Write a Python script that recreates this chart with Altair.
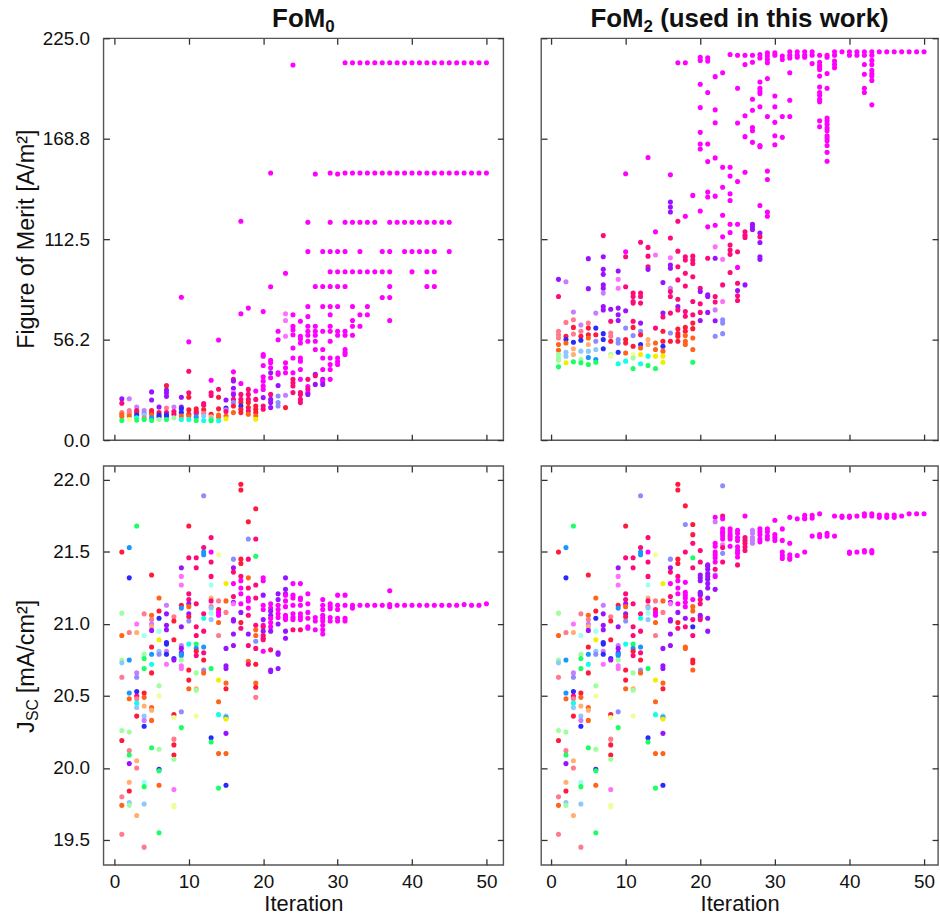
import altair as alt
import pandas as pd

FONT = "Liberation Sans"

# colour codes used for the sample points (hue family, upper case = saturated, lower case = pale)
HUE_CODES = ["M", "m", "P", "R", "r", "O", "o", "Y", "y", "G", "g", "C", "c", "A", "a", "B", "b", "V", "v"]
HUE_HEX = ["#ff00ff", "#ff70ff", "#ff0a7a", "#ff1a3a", "#ff7a8c", "#ff641a", "#ffb070", "#f2ee00", "#eeff99",
           "#1aff66", "#9dff9d", "#12ffe6", "#a0fff0", "#1a96ff", "#8cc8ff", "#2a2aff", "#8c8cff", "#9a12ff", "#c87cff"]

X_TICKS = [0, 10, 20, 30, 40, 50]
FOM_TICKS = [0.0, 56.2, 112.5, 168.8, 225.0]
JSC_TICKS = [19.5, 20.0, 20.5, 21.0, 21.5, 22.0]

# Figure of merit FoM0 per iteration: (iteration, values, colour codes; missing codes = "M")
FOM0 = [
    (1, [23.2, 20.6, 15.5, 14.5, 13.2, 11.0], "VPrOOG"),
    (2, [23.2, 16.5, 15.0, 13.5, 11.5], "vrrOy"),
    (3, [18.5, 16.5, 15.5, 14.0, 12.5, 11.2], "vPRBCG"),
    (4, [16.5, 15.0, 14.0, 12.5, 11.5], "vbarG"),
    (5, [27.0, 22.5, 16.5, 15.0, 14.0, 12.5, 11.0], "VVRROAG"),
    (6, [18.5, 15.5, 14.0, 13.0, 11.5], "VRBBg"),
    (7, [30.5, 28.0, 26.5, 24.5, 18.0, 15.5, 14.0, 13.5, 11.5], "RVVVrPBBG"),
    (8, [18.5, 16.0, 14.5, 12.5], "vPPg"),
    (9, [80.0, 24.0, 18.5, 17.5, 15.5, 13.5, 11.5], "MVVBBOC"),
    (10, [55.0, 38.5, 26.5, 24.0, 17.0, 14.5, 13.5, 11.5], "MPPRRROC"),
    (11, [17.5, 16.0, 15.0, 13.0, 11.0], "RRPAG"),
    (12, [20.5, 19.5, 17.0, 15.0, 13.5, 11.0], "PPRraC"),
    (13, [33.5, 26.5, 25.0, 14.5, 13.0, 11.5, 10.8], "MPPRoCG"),
    (14, [56.0, 28.5, 24.0, 17.5, 14.0, 13.0, 10.8], "MPRROOC"),
    (15, [22.5, 18.0, 17.0, 16.0, 13.5, 12.0], "VBvPOY"),
    (16, [38.2, 34.0, 33.1, 29.0, 26.6, 25.6, 22.8, 21.0, 19.1, 15.4], "MPVVmVPbRO"),
    (17, [122.5, 70.7, 31.7, 25.6, 22.8, 21.0, 19.1, 17.3, 15.4], "MMMPPRBRR"),
    (18, [73.9, 28.4, 25.6, 22.8, 21.0, 18.2, 16.3, 14.5], "MPPPRRPO"),
    (19, [27.5, 22.8, 19.1, 17.3, 15.4, 13.6, 11.7], "MPRRROY"),
    (20, [72.0, 47.9, 47.0, 41.8, 35.4, 33.0, 30.3, 28.4, 23.8, 19.1, 17.3], "MMMMMMMMVPP"),
    (21, [149.5, 85.9, 44.7, 43.3, 40.5, 37.7, 34.9, 25.6, 22.8, 21.0, 18.2], "MMMMMVMPVVV"),
    (22, [60.9, 56.2, 37.7, 36.8, 30.6, 24.7, 21.0, 19.1], "MMMMVbbb"),
    (23, [93.4, 70.7, 67.0, 58.1, 43.3, 40.5, 37.7, 25.1, 18.2], "MmmmMMMvR"),
    (24, [210.0, 70.2, 63.7, 61.8, 59.0, 51.6, 46.0, 37.7, 34.0, 32.1, 30.3, 26.6], "MMMMMMMMPPPP"),
    (25, [66.5, 58.1, 56.6, 54.4, 46.0, 44.2, 39.5, 34.0, 26.6, 25.6, 22.8, 21.0], "MMMMMMMMPPPP"),
    (26, [122.0, 105.6, 74.8, 69.2, 63.7, 60.9, 58.7, 55.3, 34.0, 30.0, 28.4, 26.5, 25.6], "MMMMMMMMPMPMV"),
    (27, [149.0, 86.0, 63.7, 60.9, 58.7, 55.3, 50.7, 36.8, 36.0, 31.2], "MMMMMMMVPV"),
    (28, [105.6, 86.0, 74.8, 60.9, 50.7, 46.0, 39.5, 34.0, 33.0, 31.2], "MMMMMMMVMV"),
    (29, [149.5, 122.0, 105.6, 94.3, 86.0, 74.8, 70.2, 63.7, 60.9, 55.3, 46.0, 42.3, 39.5, 34.0], ""),
    (30, [149.0, 105.6, 94.3, 86.0, 74.8, 60.9, 58.7, 46.0, 44.0, 42.3], ""),
    (31, [211.3, 149.5, 122.0, 105.6, 94.3, 86.0, 60.9, 58.7, 50.7, 49.0, 47.9], ""),
    (32, [211.3, 149.5, 122.0, 94.3, 74.8, 67.0, 63.7, 58.7], ""),
    (33, [211.3, 149.5, 122.0, 105.6, 94.3, 70.2, 63.7], ""),
    (34, [211.3, 149.5, 122.0, 94.3, 74.8, 70.2], ""),
    (35, [211.3, 149.5, 122.0, 94.3], ""),
    (36, [211.3, 149.5, 105.6, 94.3, 79.8], ""),
    (37, [211.3, 149.5, 122.0, 105.6, 94.3, 86.0, 79.8, 67.0], ""),
    (38, [211.3, 149.5, 122.0], ""),
    (39, [211.3, 149.5, 122.0, 105.6], ""),
    (40, [211.3, 149.5, 122.0, 105.6, 94.3], ""),
    (41, [211.3, 149.5, 122.0, 105.6], ""),
    (42, [211.3, 149.5, 122.0, 105.6, 94.3, 86.0], ""),
    (43, [211.3, 149.5, 122.0, 105.6, 94.3, 86.0], ""),
    (44, [211.3, 149.5, 122.0], ""),
    (45, [211.3, 149.5, 122.0, 105.6], ""),
    (46, [211.3, 149.5], ""),
    (47, [211.3, 149.5], ""),
    (48, [211.3, 149.5], ""),
    (49, [211.3, 149.5], ""),
    (50, [211.3, 149.5], ""),
]

# Figure of merit FoM2 per iteration
FOM2 = [
    (1, [90.0, 80.4, 60.9, 59.0, 57.2, 53.5, 50.3, 47.9, 46.0, 44.7, 41.0], "VPrrrOOgggG"),
    (2, [88.7, 65.9, 58.1, 56.3, 54.4, 49.2, 47.0, 43.3], "vrRBOaaY"),
    (3, [71.7, 67.4, 63.1, 59.4, 54.8, 51.1, 47.9, 43.8], "vrRrBooG"),
    (4, [64.4, 60.9, 58.1, 55.9, 49.8, 45.1, 43.3], "vrRBagG"),
    (5, [101.6, 84.8, 65.5, 62.7, 59.0, 57.2, 53.5, 49.8, 46.2, 42.3], "VVrRROoaAG"),
    (6, [71.1, 62.7, 59.0, 55.3, 50.7, 45.1, 43.6], "vBRbaAG"),
    (7, [114.5, 102.7, 95.6, 92.8, 86.9, 85.0, 82.3, 74.8, 72.9, 59.6, 56.3, 51.1], "PVVVVVvVVBBB"),
    (8, [73.3, 66.5, 60.0, 58.1, 55.3, 47.9, 47.0], "VPrrRgy"),
    (9, [94.7, 90.0, 85.0, 73.9, 70.2, 67.0, 56.3, 54.4, 49.2, 42.7], "VmmVVVbbBC"),
    (10, [149.1, 105.5, 102.7, 85.9, 72.4, 62.7, 56.3, 54.4, 48.8, 44.2], "MMPPVbRROC"),
    (11, [82.3, 80.4, 77.6, 76.7, 66.5, 63.1, 58.5, 52.5, 47.9, 46.0, 40.1], "PPPPPRbRygG"),
    (12, [110.8, 82.3, 80.4, 76.7, 65.5, 60.9, 59.0, 53.5, 51.6, 47.9, 42.7], "PPPPVbRBOYC"),
    (13, [158.2, 107.9, 103.0, 97.1, 95.6, 56.3, 53.5, 47.0, 41.8], "MPPPVooCG"),
    (14, [116.6, 103.6, 62.7, 54.4, 50.7, 47.0, 40.1], "MmPOOYG"),
    (15, [88.2, 71.1, 68.9, 60.9, 55.3, 52.5, 49.8, 47.0, 43.6], "VVPRRBOYY"),
    (16, [148.5, 133.3, 130.5, 127.7, 113.2, 102.1, 98.0, 96.2, 85.0, 83.2, 80.4, 71.1, 60.0, 55.3], "MVVVPmVVvPPPbR"),
    (17, [211.3, 122.5, 105.8, 97.1, 89.7, 78.9, 74.8, 72.9, 62.2, 59.6, 58.1, 55.3], "MPPPPPVPRRRR"),
    (18, [211.3, 125.3, 102.7, 100.8, 93.4, 86.3, 72.0, 69.3, 63.1, 60.9, 58.5, 55.3, 53.5], "MMPPPPPPRROOO"),
    (19, [137.0, 103.0, 100.8, 98.9, 91.5, 77.6, 70.2, 65.5, 62.4, 57.2, 50.7, 43.6], "MPPPPPPRROOG"),
    (20, [214.4, 212.6, 199.2, 186.2, 172.3, 165.8, 163.0, 128.3, 85.0, 83.2, 76.3, 71.5, 67.0], "MMMMMMMMPVPPV"),
    (21, [214.0, 212.2, 194.6, 165.8, 156.0, 138.9, 136.1, 119.4, 101.8, 81.3, 80.4, 71.5], "MMMMMMMMPVVV"),
    (22, [203.5, 184.9, 177.7, 158.0, 136.6, 120.3, 108.2, 101.8, 80.4, 77.3, 72.9, 66.8, 58.1], "MMMMMMmVPPvVb"),
    (23, [205.7, 152.8, 141.6, 125.9, 113.8, 101.2, 86.9, 77.6, 67.4, 65.5, 59.6], "MMMMMmPmbbb"),
    (24, [215.9, 152.8, 147.8, 137.9, 134.2, 120.9, 116.2, 109.2, 106.4, 104.0, 93.8], "MMMMMMMPPPP"),
    (25, [215.5, 197.0, 177.5, 144.8, 120.9, 105.5, 96.7, 87.8, 83.7, 80.8, 78.2], "MMMMMPMPVPP"),
    (26, [215.5, 210.3, 181.6, 169.9, 150.0, 116.6, 114.7, 113.4, 86.9], "MMMMMPPPV"),
    (27, [215.5, 211.6, 190.8, 184.7, 175.0, 173.2, 166.7, 120.9, 119.4, 117.9], "MMMMMMMVVV"),
    (28, [215.9, 214.0, 200.5, 197.0, 195.5, 194.0, 186.6, 164.9, 164.3, 131.4, 116.0, 113.8, 110.6, 102.7, 101.2], "MMMMMMMMMMVPVVV"),
    (29, [216.8, 215.0, 213.1, 211.3, 202.4, 181.2, 150.6, 145.9, 127.7, 125.3], ""),
    (30, [216.8, 215.5, 192.7, 186.6, 177.9, 170.4, 165.4], ""),
    (31, [215.0, 213.1, 181.2, 169.5], ""),
    (32, [217.4, 215.5, 214.0, 205.7, 190.3, 181.2], ""),
    (33, [217.4, 215.5, 214.4], ""),
    (34, [217.4, 215.5, 214.4], ""),
    (35, [217.4, 215.5, 210.9], ""),
    (36, [215.5, 211.6, 209.8, 208.5, 207.5, 203.8, 197.7, 194.6, 193.1, 190.8, 189.5, 178.8, 175.4], ""),
    (37, [215.5, 214.4, 205.3, 197.0, 180.3, 178.8, 176.9, 174.7, 173.2, 170.4, 169.1, 167.6, 164.9, 161.1, 156.1], ""),
    (38, [217.4, 215.5, 212.2, 210.3, 208.5], ""),
    (39, [217.4], ""),
    (40, [217.4, 215.5], ""),
    (41, [217.4, 215.5], ""),
    (42, [217.4, 215.5, 210.3, 204.8, 197.0, 194.6], ""),
    (43, [217.4, 215.5, 212.6, 210.3, 207.0, 205.1, 203.8, 201.4, 187.7], ""),
    (44, [217.4], ""),
    (45, [217.4], ""),
    (46, [217.4], ""),
    (47, [217.4], ""),
    (48, [217.4], ""),
    (49, [217.4], ""),
    (50, [217.4], ""),
]

# Short-circuit current density of the shared initial samples (iterations 1-17)
JSC_INIT = [
    (1, [21.5, 21.075, 20.92, 20.75, 20.73, 20.63, 20.26, 20.19, 19.8, 19.74, 19.54], "RgOgargRrOr"),
    (2, [21.53, 21.32, 20.94, 20.75, 20.52, 20.48, 20.25, 20.12, 20.09, 20.03, 19.9, 19.84, 19.76, 19.74], "ABrAAOgrGVoRag"),
    (3, [21.68, 21.0, 20.94, 20.66, 20.63, 20.53, 20.5, 20.48, 20.45, 20.42, 20.36, 20.05, 20.0, 19.67], "GmovbBPrCaRoro"),
    (4, [21.07, 20.92, 20.79, 20.76, 20.69, 20.52, 20.49, 20.43, 20.36, 20.33, 20.29, 19.9, 19.87, 19.75, 19.45], "rcgGGROoavBcGar"),
    (5, [21.34, 21.06, 21.03, 21.0, 20.98, 20.955, 20.84, 20.79, 20.72, 20.66, 20.42, 20.4, 20.33, 20.14], "ROrvoVRACROoOG"),
    (6, [21.18, 21.09, 21.04, 20.95, 20.89, 20.81, 20.79, 20.57, 20.5, 20.13, 19.99, 19.98, 19.88, 19.55], "ORBcYabgygBGOG"),
    (7, [21.13, 21.07, 20.99, 20.96, 20.87, 20.86, 20.81, 20.79, 20.72], "vVVVBBvBm"),
    (8, [21.05, 21.02, 20.89, 20.76, 20.75, 20.37, 20.35, 20.2, 20.16, 20.09, 20.06, 19.85, 19.74, 19.73], "rRRBVRyrRRgmyy"),
    (9, [21.39, 21.33, 21.27, 21.13, 21.11, 20.98, 20.85, 20.83, 20.8, 20.79, 20.78, 20.75, 20.71, 20.69, 20.39, 20.28], "VmmRAVvVVAAgmmbG"),
    (10, [21.68, 21.46, 21.21, 21.17, 21.14, 21.12, 21.07, 21.05, 21.02, 20.86, 20.68, 20.61, 20.55], "RPPPVOVRbCRRO"),
    (11, [21.46, 21.39, 21.14, 20.98, 20.92, 20.86, 20.83, 20.81, 20.78, 20.66, 20.55, 20.54, 20.36], "PPPPPGARPgogy"),
    (12, [21.89, 21.53, 21.5, 21.48, 21.07, 21.04, 20.95, 20.84, 20.8, 20.75, 20.68, 20.66], "bPAAPCPAPRbO"),
    (13, [21.6, 21.5, 21.43, 21.33, 21.27, 21.18, 21.16, 21.12, 21.11, 21.075, 21.03, 20.69, 20.21, 20.18], "PMPPcoPracaGBG"),
    (14, [21.48, 21.16, 21.1, 21.08, 21.06, 21.01, 20.92, 20.61, 20.46, 20.37, 20.1, 19.86], "yrRMMOrYOCOG"),
    (15, [21.28, 21.16, 21.08, 20.83, 20.71, 20.69, 20.59, 20.55, 20.36, 20.35, 20.34, 20.24, 20.1, 19.88], "YOrVVVORaAYVOB"),
    (16, [21.45, 21.39, 21.36, 21.28, 21.19, 21.15, 21.14, 21.03, 21.02, 20.93, 20.85], "bVPMPVmVVVV"),
    (17, [21.97, 21.93, 21.45, 21.42, 21.33, 21.3, 21.25, 21.21, 21.14, 21.08, 21.01, 20.97], "RRRRPMMMMVRP"),
]

# Jsc of the FoM0-guided iterations (18-50)
JSC0_LATE = [
    (18, [21.71, 21.59, 21.45, 21.32, 21.25, 21.18, 21.16, 21.11, 21.06, 20.93, 20.85, 20.74, 20.72], "RbPOPMMMPVPOP"),
    (19, [21.8, 21.59, 21.47, 21.27, 21.18, 20.99, 20.96, 20.92, 20.88, 20.83, 20.72, 20.59, 20.56, 20.49], "RPGPPPOObPRORr"),
    (20, [21.32, 21.3, 21.2, 21.13, 21.1, 21.03, 20.99, 20.98, 20.95, 20.92, 20.9, 20.89, 20.81], "MMVMMVMPVPPPM"),
    (21, [21.14, 21.11, 21.09, 21.06, 21.04, 21.01, 20.98, 20.95, 20.82, 20.68, 20.67], "MMVVMMMVPVV"),
    (22, [21.21, 21.17, 21.13, 21.1, 21.07, 21.045, 21.0, 20.8, 20.79, 20.69], "VVMMMMVVVV"),
    (23, [21.32, 21.24, 21.21, 21.2, 21.16, 21.12, 21.06, 21.045, 21.03, 20.95, 20.9], "VVVMMMMMMVV"),
    (24, [21.28, 21.2, 21.18, 21.13, 21.07, 21.045, 21.03, 20.96], "MMMMMMMP"),
    (25, [21.28, 21.18, 21.17, 21.13, 21.07, 21.05, 21.03, 20.96], "MMMMMMMP"),
    (26, [21.21, 21.14, 21.08, 21.04, 20.98, 20.97], ""),
    (27, [21.045, 21.02, 20.96], ""),
    (28, [21.17, 21.13, 21.1, 21.06, 21.04, 21.02, 20.99, 20.96, 20.93], ""),
    (29, [21.14, 21.12, 21.105, 21.045, 21.02], ""),
    (30, [21.2, 21.13, 21.1, 21.04, 21.02], ""),
    (31, [21.2, 21.13, 21.04, 21.02], ""),
    (32, [21.13, 21.11], ""),
    (33, [21.13], ""),
    (34, [21.13], ""),
    (35, [21.13], ""),
    (36, [21.13], ""),
    (37, [21.23, 21.135, 21.12], ""),
    (38, [21.13], ""),
    (39, [21.13], ""),
    (40, [21.13], ""),
    (41, [21.13], ""),
    (42, [21.13], ""),
    (43, [21.13], ""),
    (44, [21.13], ""),
    (45, [21.13], ""),
    (46, [21.13], ""),
    (47, [21.135], ""),
    (48, [21.13], ""),
    (49, [21.13], ""),
    (50, [21.14], ""),
]

# Jsc of the FoM2-guided iterations (18-50)
JSC2_LATE = [
    (18, [21.82, 21.69, 21.5, 21.29, 21.22, 21.2, 21.18, 21.15, 21.12, 21.04, 20.98, 20.84, 20.83], "RbPMMMMMMVPOO"),
    (19, [21.69, 21.62, 21.56, 21.46, 21.39, 21.17, 21.12, 21.09, 21.03, 20.98, 20.92, 20.75, 20.73, 20.68], "RRPGPMOOPBPRRO"),
    (20, [21.51, 21.43, 21.34, 21.32, 21.3, 21.22, 21.21, 21.2, 21.17, 21.14, 21.06, 21.045, 21.03], "PPVVVVVVPPVVP"),
    (21, [21.41, 21.4, 21.38, 21.35, 21.33, 21.31, 21.28, 21.25, 21.18, 21.04, 20.95], "VVVVVVVVVVV"),
    (22, [21.74, 21.71, 21.56, 21.54, 21.5, 21.48, 21.46, 21.43, 21.38, 21.34, 21.33, 21.24], "MvMMMMMMPbMV"),
    (23, [21.96, 21.75, 21.73, 21.66, 21.64, 21.63, 21.61, 21.59, 21.55, 21.53, 21.49, 21.43], "bPMMMMMMmPbP"),
    (24, [21.66, 21.64, 21.62, 21.605, 21.59, 21.54], ""),
    (25, [21.65, 21.63, 21.6, 21.58, 21.535, 21.51, 21.49, 21.465, 21.41], "MMMMMMMMP"),
    (26, [21.75, 21.6, 21.58, 21.56, 21.535, 21.51], "MPPPPP"),
    (27, [21.65, 21.63, 21.6, 21.58, 21.56], "vvvvv"),
    (28, [21.66, 21.64, 21.62, 21.59, 21.57], ""),
    (29, [21.66, 21.64, 21.61, 21.59], ""),
    (30, [21.72, 21.62, 21.6, 21.58], ""),
    (31, [21.66, 21.58, 21.5, 21.475, 21.455], ""),
    (32, [21.74, 21.56, 21.48, 21.46, 21.45], ""),
    (33, [21.73, 21.475], ""),
    (34, [21.755, 21.735, 21.73, 21.5], ""),
    (35, [21.755, 21.735, 21.61], ""),
    (36, [21.765, 21.62, 21.605], ""),
    (37, [21.63, 21.61], ""),
    (38, [21.75, 21.61], ""),
    (39, [21.75, 21.74], ""),
    (40, [21.75, 21.74, 21.5, 21.49], ""),
    (41, [21.75, 21.5], ""),
    (42, [21.765, 21.75, 21.51, 21.5], ""),
    (43, [21.765, 21.75, 21.51, 21.495], ""),
    (44, [21.757, 21.74], ""),
    (45, [21.757, 21.74], ""),
    (46, [21.757, 21.74], ""),
    (47, [21.75], ""),
    (48, [21.765], ""),
    (49, [21.765], ""),
    (50, [21.765], ""),
]


def to_frame(groups):
    rows = []
    for it, vals, codes in groups:
        for k, v in enumerate(vals):
            rows.append({"iteration": it, "value": v, "hue": codes[k] if k < len(codes) else "M"})
    return pd.DataFrame(rows)


AX = dict(tickSize=6, offset=-6, domain=False, grid=False, tickColor="#333333", tickWidth=1.3,
          labelFont=FONT, labelFontSize=19, labelColor="#111111", titleFont=FONT)


def panel(df, xdom, ydom, yticks, xlabels, ylabels):
    xs = alt.Scale(domain=xdom, nice=False, zero=False)
    ys = alt.Scale(domain=ydom, nice=False, zero=False)
    x_ax = alt.Axis(orient="bottom", values=X_TICKS, labels=xlabels, format="d", labelPadding=8,
                    title="Iteration" if xlabels else None, titleFontSize=22, titleFontWeight="normal",
                    titlePadding=2, titleColor="#111111", **AX)
    y_ax = alt.Axis(orient="left", values=yticks, labels=ylabels, format=".1f", labelPadding=14,
                    title=None, **AX)
    color = alt.Color("hue:N", scale=alt.Scale(domain=HUE_CODES, range=HUE_HEX), legend=None)
    pts = alt.Chart(df).mark_circle(size=26, opacity=1).encode(
        x=alt.X("iteration:Q", scale=xs, axis=x_ax),
        y=alt.Y("value:Q", scale=ys, axis=y_ax),
        color=color,
    )
    # mirrored ticks on the top and right edges
    mirror = alt.Chart(df).mark_circle(opacity=0).encode(
        x=alt.X("iteration:Q", scale=xs, axis=alt.Axis(orient="top", values=X_TICKS, labels=False, title=None, **AX)),
        y=alt.Y("value:Q", scale=ys, axis=alt.Axis(orient="right", values=yticks, labels=False, title=None, **AX)),
    )
    return pts, mirror


def label(text, x, y, size, align="left", angle=0, weight="normal", baseline="alphabetic"):
    return alt.Chart(alt.Data(values=[{"k": 0}])).mark_text(
        text=text, angle=angle, font=FONT, fontSize=size, align=align, baseline=baseline,
        fontWeight=weight, color="#111111"
    ).encode(x=alt.value(x), y=alt.value(y))


# bold panel heading "FoM" + subscript digit + optional remainder, centred over the plot
T_SIZE, T_SUB = 26, 17
W_FOM, W_SUB, W_SPACE = 2.055 * T_SIZE, 0.556 * T_SUB, 0.278 * T_SIZE


def heading(sub, rest, rest_em, center):
    start = center - (W_FOM + W_SUB + rest_em * T_SIZE) / 2
    parts = [
        label("FoM", start, -11, T_SIZE, weight="bold"),
        label(sub, start + W_FOM, -6, T_SUB, weight="bold"),
    ]
    if rest:
        parts.append(label(rest, start + W_FOM + W_SUB + W_SPACE, -11, T_SIZE, weight="bold"))
    return parts


W_L, W_R = 402, 399
H_T, H_B = 404, 401

df_tl = to_frame(FOM0)
df_tr = to_frame(FOM2)
df_bl = to_frame(JSC_INIT + JSC0_LATE)
df_br = to_frame(JSC_INIT + JSC2_LATE)

p, m = panel(df_tl, [-1.47, 52.27], [0, 225], FOM_TICKS, False, True)
tl = alt.layer(
    p, m,
    label("Figure of Merit [A/m²]", -77, H_T / 2, 23.5, align="center", angle=270, baseline="middle"),
    *heading("0", None, 0, W_L / 2),
).properties(width=W_L, height=H_T)

p, m = panel(df_tr, [-1.33, 51.87], [0, 225], FOM_TICKS, False, False)
tr = alt.layer(p, m, *heading("2", "(used in this work)", 9.113, W_R / 2)).properties(width=W_R, height=H_T)

# J_SC [mA/cm²] axis title, composed from main text and subscript
YC = H_B / 2 + 68
p, m = panel(df_bl, [-1.47, 52.27], [19.327, 22.097], JSC_TICKS, True, True)
bl = alt.layer(
    p, m,
    label("J", -77, YC, 23.5, angle=270, baseline="middle"),
    label("SC", -71, YC - 12, 16, angle=270, baseline="middle"),
    label("[mA/cm²]", -77, YC - 40, 23.5, angle=270, baseline="middle"),
).properties(width=W_L, height=H_B)

p, m = panel(df_br, [-1.33, 51.87], [19.327, 22.097], JSC_TICKS, True, False)
br = alt.layer(p, m).properties(width=W_R, height=H_B)

top = alt.hconcat(tl.resolve_axis(x="independent", y="independent"),
                  tr.resolve_axis(x="independent", y="independent"), spacing=34)
bottom = alt.hconcat(bl.resolve_axis(x="independent", y="independent"),
                     br.resolve_axis(x="independent", y="independent"), spacing=34)

chart = alt.vconcat(top, bottom, spacing=13).properties(
    padding={"left": 14, "top": 3, "right": 0, "bottom": 0}
).configure(font=FONT).configure_view(stroke="#555555", strokeWidth=1.4)

chart.save("out.html", embed_options={"renderer": "svg", "actions": False})
